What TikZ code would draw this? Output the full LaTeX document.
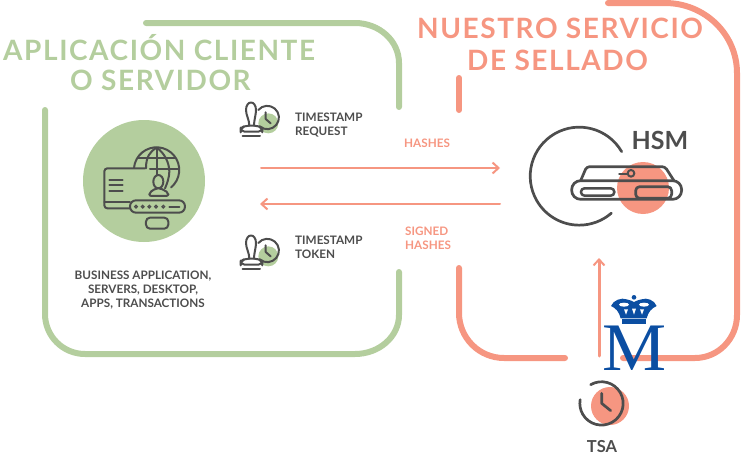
\documentclass[tikz,border=0pt]{standalone}
\usepackage{fontspec}
\usepackage{graphicx}
\setmainfont{Lato}
\newfontfamily\titlefont[LetterSpace=5.6]{Lato}
\newfontfamily\mfont{Liberation Serif}
\usetikzlibrary{arrows.meta}
\definecolor{grn}{HTML}{B4CE9E}
\definecolor{sal}{HTML}{F69681}
\definecolor{dk}{HTML}{4D4D4D}
\definecolor{blu}{HTML}{0B4EA2}
\tikzset{
 frameg/.style={draw=grn,line width=6pt,line cap=round},
 frames/.style={draw=sal,line width=6pt,line cap=round},
 ico/.style={draw=dk,line width=2pt,line cap=round,line join=round},
 arr/.style={draw=sal,line width=2pt,line cap=round,-{Straight Barb[length=6pt,width=11pt,line width=2pt]}},
 title/.style={font=\titlefont\bfseries\fontsize{28}{34}\selectfont,inner sep=0pt},
 lab/.style={font=\bfseries\fontsize{11.7}{14}\selectfont,text=dk,inner sep=0pt},
 lab2/.style={font=\bfseries\fontsize{11.7}{14}\selectfont,text=sal,inner sep=0pt},
 stampicon/.pic={
  \fill[grn] (115,85) circle (30);
  \draw[ico] (85,45) arc[start angle=-140,end angle=129,radius=35];
  \draw[ico] (107,52) -- (107,72) -- (122,85);
  \draw[ico] (58,92) .. controls (58,75) and (48,60) .. (48,45) .. controls (48,15) and (78,15) .. (78,45) .. controls (78,60) and (72,75) .. (72,92);
  \draw[ico,rounded corners=4pt] (45,92) -- (32,100) -- (32,110) -- (97,110) -- (97,100) -- (85,92) -- cycle;
  \draw[ico] (38,122) -- (90,122);
 },
}
\begin{document}
\begin{tikzpicture}[x=1pt,y=-1pt]
\useasboundingbox (0,0) rectangle (742,455);
% frames
\draw[frameg] (146,23) -- (355,23) arc[start angle=-90,end angle=0,x radius=44,y radius=40] -- (399,107);
\draw[frameg] (399,272) -- (399,315) arc[start angle=0,end angle=90,x radius=44,y radius=39] -- (85,354) arc[start angle=90,end angle=180,radius=40] -- (45,110);
\draw[frames] (608,3) -- (665,3) arc[start angle=-90,end angle=0,x radius=72,y radius=70] -- (737,315) arc[start angle=0,end angle=90,x radius=42,y radius=43] -- (623,358);
\draw[frames] (459,78) -- (459,110);
\draw[frames] (459,268) -- (459,313) arc[start angle=180,end angle=90,radius=45] -- (565,358);
% titles
\node[title,text=grn,anchor=west] (t1) at (3,48) {APLICACIÓN CLIENTE};
\node[title,text=grn,anchor=west] (t2) at (70,80) {O SERVIDOR};
\node[title,text=sal,anchor=west] (t3) at (417,28) {NUESTRO SERVICIO};
\node[title,text=sal,anchor=west] (t4) at (467,60) {DE SELLADO};
% left circle and icon
\fill[grn] (144,181) circle (61);
\begin{scope}[shift={(70,120)},x=0.3333pt,y=-0.3333pt]
 \draw[ico] (192,144) arc[start angle=-175,end angle=50,radius=68];
 \draw[ico] (260,85) -- (260,170);
 \draw[ico] (205,115) -- (315,115);
 \draw[ico] (240,148) -- (325,148);
 \draw[ico] (228,145) .. controls (228,110) and (240,95) .. (260,83) .. controls (285,100) and (298,130) .. (298,155) .. controls (298,170) and (292,190) .. (285,205);
 \draw[ico,fill=grn,rounded corners=3pt] (225,145) -- (103,145) -- (103,265) -- (180,265);
 \draw[ico] (103,245) -- (180,245);
 \draw[ico] (118,180) -- (158,180) (118,196) -- (158,196) (118,212) -- (158,212);
 \draw[ico,fill=grn] (265,185) ellipse (15 and 20);
 \draw[ico,fill=grn,rounded corners=2pt] (238,228) -- (238,218) -- (258,205) -- (272,205) -- (295,218) -- (295,228) -- cycle;
 \draw[ico,fill=grn,rounded corners=6pt] (180,241) rectangle (345,278);
 \foreach \u in {198,218,238,258,280} \draw[dk,line width=1.2pt] (\u,260) circle (4);
 \draw[ico] (298,260) -- (328,260);
 \draw[ico,rounded corners=4pt] (228,293) rectangle (295,326);
\end{scope}
\begin{scope}[shift={(230,95)},x=0.3333pt,y=-0.3333pt]\pic {stampicon};\end{scope}
\begin{scope}[shift={(230,228)},x=0.3333pt,y=-0.3333pt]\pic {stampicon};\end{scope}
% labels
\node[lab,anchor=north west,align=left] (treq) at (295,113) {TIMESTAMP\\REQUEST};
\node[lab,anchor=north west,align=left] (ttok) at (295,236) {TIMESTAMP\\TOKEN};
\node[lab,anchor=north,align=center] (biz) at (143,271) {BUSINESS APPLICATION,\\SERVERS, DESKTOP,\\APPS, TRANSACTIONS};
\node[lab2,anchor=west] (hashes) at (404,143) {HASHES};
\node[lab2,anchor=north west,align=left] (signed) at (405,227) {SIGNED\\HASHES};
% arrows
\coordinate (a1) at (261,168); \coordinate (a2) at (500,168);
\coordinate (b1) at (500,204); \coordinate (b2) at (260,204);
\coordinate (c1) at (599,356); \coordinate (c2) at (599,258);
\draw[arr] (a1) -- (a2);
\draw[arr] (b1) -- (b2);
\draw[arr,line width=3pt] (c1) -- (c2);
% HSM
\fill[sal] (643,188) circle (26);
\begin{scope}[shift={(520,120)},x=0.3333pt,y=-0.3333pt]
 \draw[ico,line width=2.7pt] (305,95) arc[start angle=-30,end angle=-311,radius=147];
 \draw[ico,line width=2.7pt,rounded corners=3pt] (182,182) -- (200,140) -- (435,140) -- (462,182);
 \draw[ico,line width=2.7pt,rounded corners=9pt] (155,182) rectangle (485,238);
 \draw[ico,line width=2.5pt,rounded corners=3.5pt] (183,205) rectangle (283,227);
 \draw[ico,line width=2.7pt,rounded corners=4pt] (347,200) rectangle (455,235);
 \draw[ico,line width=2pt] (333,160) circle (10);
 \draw[ico,line width=2.5pt] (298,162) -- (322,162);
\end{scope}
\node[font=\bfseries\fontsize{25}{30}\selectfont,text=dk,inner sep=0pt] (hsm) at (660,140) {HSM};
% logo
\node[font=\mfont\fontsize{68}{68}\selectfont,text=blu,inner sep=0pt,anchor=base] (m) at (635,370) {\scalebox{1.06}[1]{M}};
\begin{scope}[shift={(600,290)},x=0.3333pt,y=-0.3333pt]
 \fill[blu] (65,88) rectangle (137,103);
 \fill[blu] (102,22) circle (7);
 \fill[blu] (33,48) .. controls (40,30) and (65,22) .. (80,28) .. controls (90,30) and (96,33) .. (102,36) .. controls (108,33) and (114,30) .. (125,28) .. controls (140,22) and (163,30) .. (170,48) .. controls (155,55) and (145,65) .. (140,85) -- (62,85) .. controls (57,65) and (48,55) .. (33,48) -- cycle;
 \fill[white] (72,44) ellipse (15 and 6) (132,44) ellipse (15 and 6);
 \fill[white] (72,58) -- (84,58) -- (78,74) -- cycle (96,56) -- (108,56) -- (102,74) -- cycle (120,58) -- (132,58) -- (126,74) -- cycle;
\end{scope}
% TSA
\fill[sal] (610,406) circle (19);
\begin{scope}[shift={(560,280)},x=0.3333pt,y=-0.3333pt]
 \draw[ico,line width=2.7pt] (92,314) arc[start angle=-120,end angle=190,radius=65];
 \draw[ico,line width=2.7pt] (125,340) -- (125,370) -- (152,392);
\end{scope}
\node[font=\bfseries\fontsize{16.5}{20}\selectfont,text=dk,inner sep=0pt] (tsa) at (602,447) {TSA};
\end{tikzpicture}
\end{document}
